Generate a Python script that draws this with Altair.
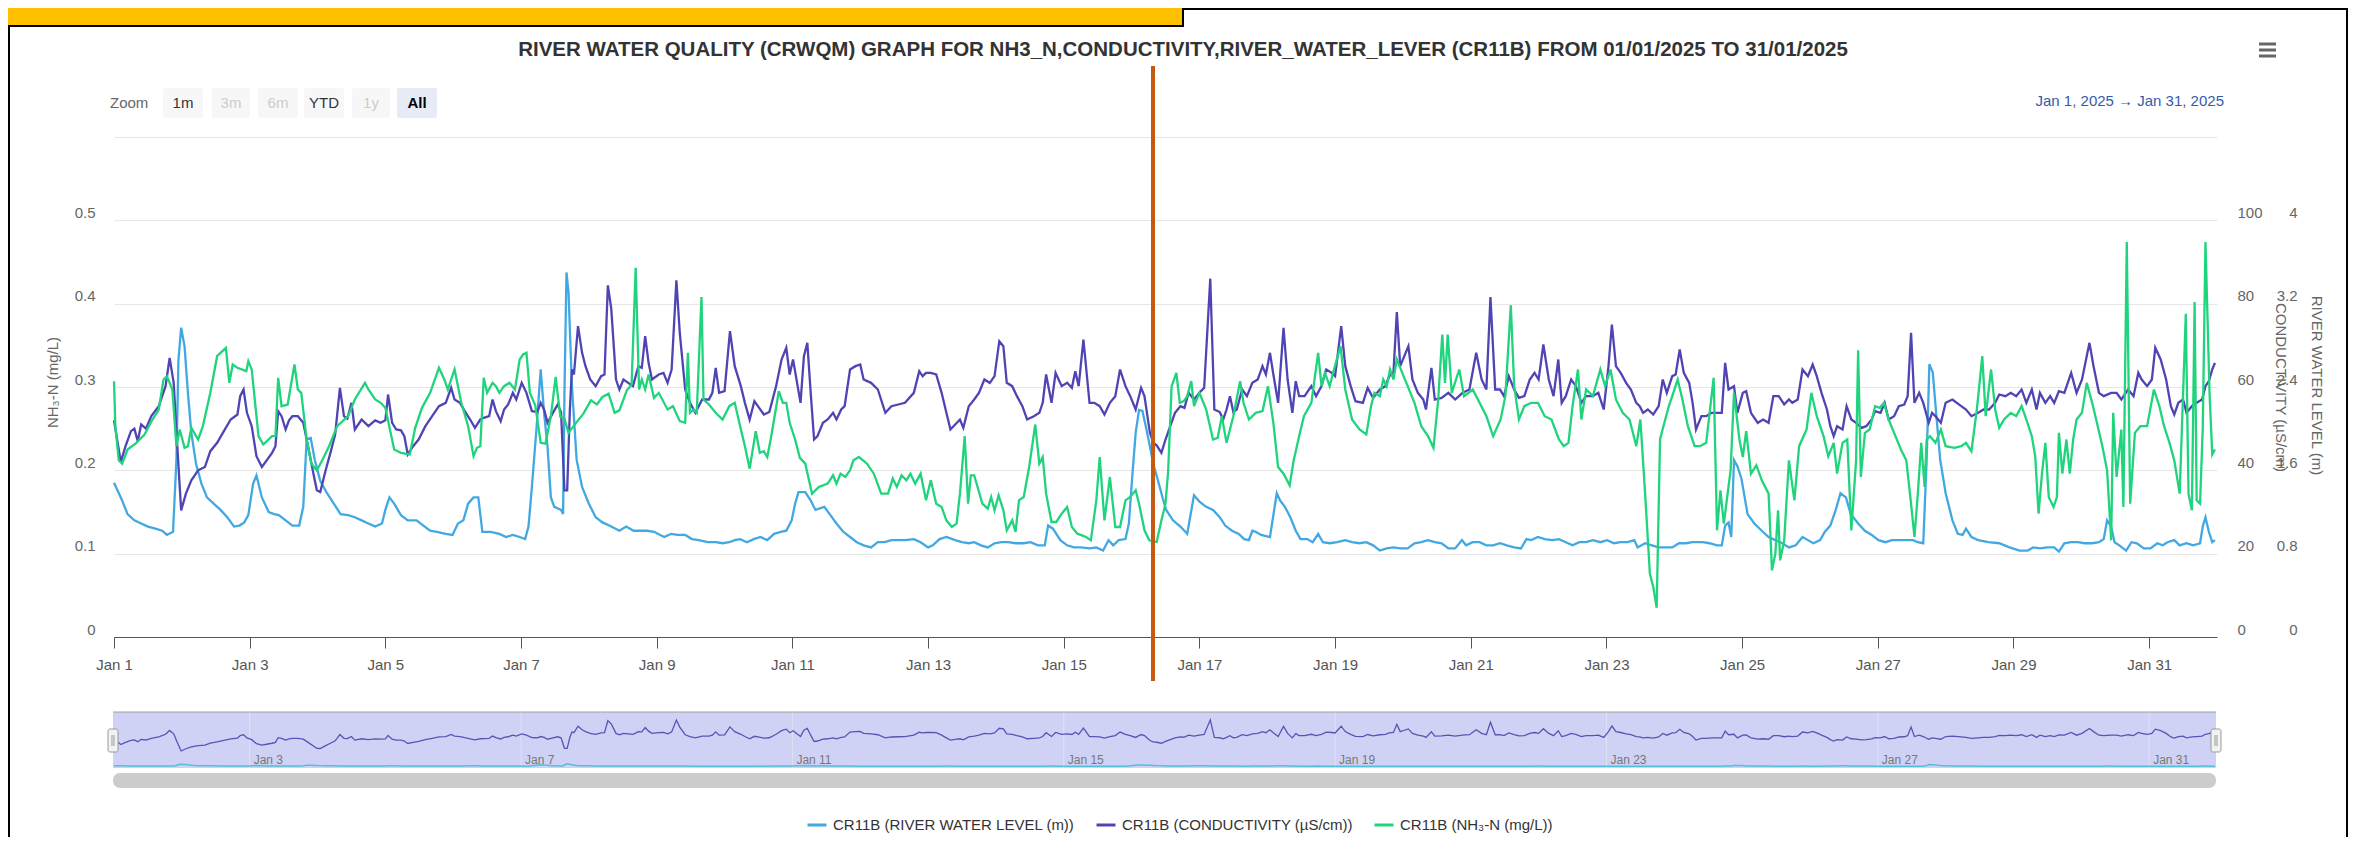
import altair as alt
import pandas as pd

# ---------------- data ----------------
# time = days since 1 Jan 2025 00:00
SERIES = ["CR11B (RIVER WATER LEVEL (m))", "CR11B (CONDUCTIVITY (µS/cm))", "CR11B (NH₃-N (mg/L))"]
COLORS = ["#42a8e2", "#4f44b3", "#1fd47c"]

NH3 = [(0.00,0.307),(0.02,0.253),(0.07,0.212),(0.12,0.208),(0.20,0.225),(0.33,0.233),(0.45,0.243),(0.56,0.260),(0.66,0.273),(0.73,0.309),(0.78,0.313),(0.86,0.297),(0.92,0.229),(0.97,0.249),(1.04,0.227),(1.09,0.229),(1.14,0.251),(1.24,0.237),(1.31,0.253),(1.42,0.293),(1.52,0.337),(1.57,0.341),(1.65,0.347),(1.70,0.305),(1.75,0.327),(1.82,0.323),(1.95,0.319),(1.98,0.331),(2.03,0.321),(2.13,0.241),(2.20,0.231),(2.33,0.241),(2.38,0.241),(2.42,0.311),(2.47,0.277),(2.56,0.279),(2.66,0.327),(2.71,0.297),(2.76,0.293),(2.84,0.237),(2.91,0.208),(2.99,0.200),(3.07,0.212),(3.17,0.229),(3.29,0.253),(3.45,0.265),(3.55,0.285),(3.70,0.305),(3.75,0.297),(3.85,0.285),(3.93,0.281),(4.00,0.275),(4.13,0.225),(4.23,0.221),(4.36,0.219),(4.44,0.251),(4.54,0.275),(4.66,0.293),(4.79,0.323),(4.87,0.309),(4.92,0.297),(5.02,0.321),(5.12,0.281),(5.22,0.253),(5.30,0.217),(5.35,0.227),(5.40,0.229),(5.45,0.311),(5.50,0.293),(5.58,0.305),(5.63,0.301),(5.68,0.293),(5.75,0.301),(5.83,0.305),(5.91,0.297),(5.98,0.333),(6.03,0.339),(6.08,0.341),(6.13,0.293),(6.21,0.278),(6.29,0.233),(6.36,0.232),(6.44,0.265),(6.51,0.312),(6.58,0.264),(6.64,0.262),(6.70,0.245),(6.81,0.257),(6.92,0.268),(7.03,0.284),(7.12,0.279),(7.20,0.288),(7.29,0.292),(7.38,0.269),(7.45,0.272),(7.56,0.296),(7.63,0.303),(7.69,0.443),(7.74,0.297),(7.78,0.309),(7.83,0.297),(7.88,0.315),(7.96,0.287),(8.03,0.293),(8.16,0.273),(8.24,0.277),(8.34,0.259),(8.42,0.257),(8.46,0.341),(8.49,0.269),(8.54,0.273),(8.59,0.269),(8.66,0.408),(8.69,0.285),(8.77,0.279),(8.87,0.269),(8.97,0.261),(9.07,0.277),(9.15,0.281),(9.23,0.253),(9.30,0.229),(9.37,0.202),(9.46,0.247),(9.52,0.221),(9.58,0.223),(9.63,0.216),(9.68,0.237),(9.73,0.261),(9.80,0.295),(9.86,0.281),(9.91,0.281),(9.96,0.257),(10.04,0.237),(10.11,0.215),(10.19,0.208),(10.29,0.172),(10.39,0.180),(10.52,0.184),(10.60,0.194),(10.65,0.184),(10.71,0.196),(10.78,0.192),(10.85,0.200),(10.90,0.212),(10.98,0.216),(11.10,0.208),(11.20,0.196),(11.31,0.172),(11.41,0.172),(11.48,0.190),(11.54,0.180),(11.61,0.194),(11.68,0.188),(11.74,0.196),(11.81,0.184),(11.89,0.196),(11.97,0.164),(12.04,0.188),(12.12,0.160),(12.20,0.156),(12.27,0.140),(12.35,0.132),(12.42,0.136),(12.47,0.172),(12.54,0.241),(12.59,0.160),(12.63,0.194),(12.68,0.194),(12.73,0.180),(12.80,0.160),(12.88,0.154),(12.93,0.168),(12.98,0.152),(13.04,0.170),(13.11,0.152),(13.16,0.128),(13.24,0.140),(13.29,0.126),(13.34,0.164),(13.41,0.168),(13.49,0.204),(13.58,0.255),(13.64,0.208),(13.69,0.216),(13.74,0.172),(13.82,0.138),(13.89,0.138),(13.97,0.148),(14.05,0.156),(14.12,0.132),(14.20,0.124),(14.33,0.120),(14.40,0.116),(14.48,0.164),(14.53,0.216),(14.60,0.140),(14.68,0.192),(14.76,0.132),(14.83,0.132),(14.91,0.164),(14.98,0.168),(15.06,0.176),(15.11,0.160),(15.19,0.128),(15.26,0.116),(15.37,0.114),(15.44,0.140),(15.50,0.160),(15.54,0.200),(15.59,0.301),(15.66,0.317),(15.71,0.281),(15.77,0.283),(15.82,0.289),(15.88,0.307),(15.92,0.277),(16.00,0.293),(16.10,0.273),(16.20,0.237),(16.27,0.239),(16.33,0.265),(16.40,0.233),(16.50,0.265),(16.60,0.307),(16.65,0.281),(16.73,0.261),(16.83,0.269),(16.93,0.271),(17.01,0.301),(17.09,0.257),(17.16,0.204),(17.24,0.196),(17.33,0.182),(17.39,0.212),(17.47,0.241),(17.54,0.265),(17.65,0.281),(17.75,0.341),(17.80,0.301),(17.85,0.317),(17.92,0.301),(17.97,0.317),(18.08,0.349),(18.15,0.297),(18.25,0.261),(18.36,0.249),(18.46,0.243),(18.53,0.277),(18.58,0.293),(18.66,0.289),(18.71,0.309),(18.76,0.301),(18.81,0.321),(18.86,0.309),(18.91,0.333),(18.99,0.317),(19.07,0.301),(19.17,0.281),(19.27,0.253),(19.37,0.241),(19.45,0.227),(19.52,0.285),(19.58,0.363),(19.62,0.305),(19.66,0.363),(19.72,0.293),(19.83,0.321),(19.90,0.289),(20.03,0.297),(20.13,0.281),(20.23,0.265),(20.33,0.241),(20.44,0.261),(20.51,0.289),(20.59,0.398),(20.64,0.301),(20.71,0.261),(20.79,0.277),(20.89,0.281),(20.99,0.281),(21.09,0.265),(21.19,0.261),(21.30,0.237),(21.37,0.229),(21.44,0.233),(21.50,0.277),(21.58,0.321),(21.63,0.261),(21.70,0.297),(21.80,0.289),(21.91,0.321),(21.98,0.301),(22.06,0.321),(22.14,0.285),(22.24,0.269),(22.34,0.261),(22.44,0.229),(22.50,0.261),(22.57,0.172),(22.64,0.076),(22.69,0.060),(22.74,0.035),(22.79,0.237),(22.84,0.253),(22.92,0.277),(22.97,0.289),(23.05,0.309),(23.12,0.285),(23.20,0.253),(23.30,0.229),(23.38,0.229),(23.47,0.233),(23.58,0.311),(23.63,0.128),(23.68,0.176),(23.73,0.136),(23.78,0.168),(23.83,0.200),(23.88,0.293),(23.96,0.237),(24.01,0.216),(24.06,0.247),(24.13,0.196),(24.21,0.206),(24.29,0.188),(24.39,0.172),(24.44,0.080),(24.49,0.100),(24.53,0.152),(24.56,0.092),(24.62,0.116),(24.69,0.212),(24.77,0.164),(24.84,0.229),(24.95,0.249),(25.02,0.293),(25.10,0.265),(25.20,0.241),(25.27,0.217),(25.35,0.233),(25.40,0.196),(25.48,0.233),(25.55,0.237),(25.61,0.128),(25.68,0.212),(25.71,0.344),(25.75,0.192),(25.81,0.245),(25.88,0.249),(25.96,0.277),(26.03,0.275),(26.09,0.281),(26.16,0.261),(26.26,0.241),(26.34,0.225),(26.42,0.212),(26.49,0.160),(26.54,0.120),(26.59,0.172),(26.64,0.233),(26.69,0.180),(26.72,0.237),(26.77,0.241),(26.85,0.233),(26.93,0.249),(27.00,0.229),(27.13,0.227),(27.23,0.229),(27.30,0.233),(27.38,0.223),(27.46,0.273),(27.54,0.337),(27.59,0.265),(27.67,0.321),(27.73,0.273),(27.79,0.251),(27.86,0.261),(27.96,0.269),(28.04,0.265),(28.12,0.277),(28.19,0.261),(28.27,0.241),(28.32,0.217),(28.37,0.148),(28.42,0.196),(28.47,0.233),(28.52,0.168),(28.59,0.156),(28.64,0.168),(28.67,0.245),(28.72,0.196),(28.78,0.237),(28.83,0.196),(28.88,0.237),(28.93,0.261),(29.01,0.269),(29.08,0.305),(29.16,0.281),(29.23,0.257),(29.31,0.229),(29.38,0.200),(29.44,0.116),(29.47,0.269),(29.52,0.192),(29.59,0.249),(29.62,0.156),(29.67,0.474),(29.72,0.160),(29.79,0.245),(29.87,0.253),(29.97,0.253),(30.07,0.297),(30.15,0.277),(30.22,0.253),(30.30,0.233),(30.37,0.212),(30.45,0.172),(30.54,0.388),(30.58,0.172),(30.63,0.152),(30.67,0.402),(30.70,0.164),(30.75,0.160),(30.79,0.250),(30.83,0.474),(30.89,0.293),(30.93,0.219),(30.97,0.225)]

COND = [(0.00,52),(0.10,42),(0.17,45.8),(0.25,49.4),(0.30,50),(0.35,47),(0.40,51),(0.47,50),(0.55,53),(0.66,55.4),(0.76,60.2),(0.82,67),(0.88,61),(0.93,46.6),(0.99,30.4),(1.06,34.4),(1.14,37.6),(1.24,40),(1.34,40.8),(1.42,44.6),(1.52,46.6),(1.62,49.4),(1.72,52.2),(1.82,53.4),(1.86,57.8),(1.91,59.4),(1.96,53.8),(2.03,50.6),(2.10,43.4),(2.18,40.8),(2.25,42.4),(2.33,44.2),(2.38,45.8),(2.42,54.2),(2.47,53),(2.53,49.8),(2.58,52),(2.63,53),(2.71,53),(2.79,51.4),(2.86,45.8),(2.94,39.2),(2.99,35.2),(3.04,34.8),(3.12,40),(3.19,44.2),(3.26,48.6),(3.33,59.8),(3.39,53),(3.44,52.4),(3.50,56.2),(3.55,49.8),(3.65,52.2),(3.75,50.6),(3.85,52),(3.93,51.4),(4.00,52),(4.04,58.2),(4.10,51.4),(4.16,49.8),(4.23,49.6),(4.28,48.2),(4.33,43.8),(4.41,45.8),(4.49,47.4),(4.59,50.6),(4.69,53),(4.79,55.4),(4.89,56.2),(4.97,59.8),(5.02,57),(5.10,56.2),(5.17,54.2),(5.25,52.2),(5.32,50.2),(5.40,52.2),(5.45,52.6),(5.53,53),(5.58,57),(5.63,54.2),(5.70,51.8),(5.75,54.6),(5.81,55.8),(5.88,58.6),(5.93,57),(6.01,61),(6.08,58.6),(6.16,54.2),(6.24,54),(6.29,56.2),(6.34,54.6),(6.39,51.4),(6.47,53.8),(6.54,55.8),(6.59,54),(6.64,35.2),(6.68,35.2),(6.72,54.6),(6.75,64.2),(6.78,63),(6.84,74.6),(6.90,68.2),(6.95,65),(7.02,61.8),(7.10,60.2),(7.18,62.6),(7.23,63),(7.28,84.4),(7.33,78.8),(7.40,61.8),(7.45,59.4),(7.51,61.8),(7.58,61),(7.65,60.2),(7.73,65),(7.78,64.6),(7.83,72.2),(7.88,65.8),(7.93,61.8),(8.03,63),(8.10,63.4),(8.16,61),(8.22,64.2),(8.29,85.6),(8.34,73),(8.42,59.4),(8.49,56.2),(8.57,53.8),(8.67,57),(8.77,57),(8.82,58.6),(8.87,64.6),(8.92,58.6),(9.00,59),(9.08,73.4),(9.15,65),(9.24,60.2),(9.30,56.2),(9.37,52.2),(9.44,56.6),(9.51,55),(9.58,53.4),(9.66,54),(9.76,60.2),(9.84,66.6),(9.91,69.4),(9.96,63),(10.01,66.6),(10.12,56.2),(10.17,67.4),(10.22,70.6),(10.27,58.6),(10.32,47.4),(10.37,48.2),(10.45,51.4),(10.52,52.2),(10.60,53.8),(10.65,52.2),(10.72,54.6),(10.77,55.4),(10.85,64.2),(10.93,65),(11.00,65.4),(11.05,61.8),(11.16,61),(11.26,59.4),(11.37,53.8),(11.46,55.4),(11.56,55.8),(11.66,56.2),(11.79,58.6),(11.87,63.8),(11.92,62.6),(11.97,63.4),(12.04,63.4),(12.12,63),(12.20,58.6),(12.27,53.8),(12.33,49.8),(12.40,51),(12.47,52.2),(12.52,50.2),(12.60,55.4),(12.68,57),(12.75,58.6),(12.83,61.8),(12.91,61),(12.98,62.6),(13.05,71),(13.11,69.8),(13.16,61),(13.24,60.2),(13.31,57.8),(13.39,55.4),(13.46,52.2),(13.56,53),(13.64,53.8),(13.69,56.2),(13.74,63),(13.82,56.2),(13.88,63.4),(13.97,60.2),(14.05,61),(14.12,59.8),(14.17,63.8),(14.22,60.2),(14.29,71.4),(14.38,56.2),(14.45,56.2),(14.53,55.4),(14.60,53.4),(14.68,56.2),(14.76,57.8),(14.83,64.2),(14.91,60.2),(14.98,57.8),(15.06,54.6),(15.14,59.8),(15.19,57.8),(15.27,49),(15.32,46.6),(15.37,46),(15.44,44.2),(15.50,47.4),(15.57,50.6),(15.64,53.8),(15.72,55.4),(15.78,55),(15.84,58.6),(15.92,57),(16.00,58.6),(16.07,59.8),(16.16,86),(16.22,54.6),(16.30,54),(16.35,52.2),(16.40,54.6),(16.45,57.8),(16.50,54),(16.55,54.6),(16.63,59.4),(16.70,57.8),(16.78,61),(16.86,61.8),(16.93,65),(16.98,63),(17.04,68.2),(17.09,63),(17.16,56.2),(17.24,74.2),(17.30,61.8),(17.37,53.8),(17.42,61.4),(17.47,57.8),(17.55,57.8),(17.65,60.2),(17.72,57.8),(17.80,60.2),(17.87,64.2),(17.95,63.4),(18.00,62.6),(18.09,74.6),(18.15,65),(18.23,60.2),(18.30,56.6),(18.41,56.2),(18.48,59.8),(18.56,57.4),(18.66,59.4),(18.74,60.2),(18.80,62.6),(18.86,63.4),(18.91,78),(18.96,65),(19.02,67.4),(19.08,69.8),(19.14,61.8),(19.22,58.6),(19.30,57),(19.34,54.6),(19.42,64.6),(19.47,57),(19.57,57.4),(19.67,58.6),(19.77,57),(19.88,58.6),(19.98,59.4),(20.08,68.2),(20.16,61.8),(20.23,59.4),(20.29,81.6),(20.36,59.4),(20.43,59.4),(20.49,57.8),(20.56,62.6),(20.64,59.4),(20.71,57.4),(20.79,57.8),(20.87,61.8),(20.94,63.4),(21.00,61.8),(21.07,70.2),(21.15,61.8),(21.22,57.8),(21.29,66.6),(21.34,56.2),(21.40,57.8),(21.48,61.8),(21.55,60.2),(21.63,56.2),(21.70,57.8),(21.80,57.8),(21.88,58.6),(21.96,54.6),(22.03,65),(22.08,75),(22.14,65),(22.21,63.4),(22.29,61),(22.36,59.4),(22.44,56.2),(22.49,55.4),(22.54,53.8),(22.61,54.6),(22.69,53.4),(22.77,55.4),(22.83,61.8),(22.89,58.6),(22.97,62.6),(23.02,63),(23.08,69),(23.14,63.4),(23.22,61),(23.27,56.2),(23.32,49.8),(23.40,53),(23.47,53),(23.55,53.8),(23.63,53.8),(23.70,53.8),(23.75,65.8),(23.80,59.4),(23.88,60.2),(23.93,53.8),(24.01,58.6),(24.06,59),(24.13,53.8),(24.23,51.4),(24.31,52.2),(24.39,51.4),(24.46,57.8),(24.54,57.8),(24.62,55.8),(24.69,57),(24.74,56.2),(24.82,57),(24.89,64.2),(24.97,62.6),(25.04,65.4),(25.10,62.6),(25.17,58.6),(25.25,54.6),(25.30,50.6),(25.35,48.2),(25.40,50.6),(25.48,49.8),(25.54,55.4),(25.61,52.2),(25.68,51.4),(25.76,50.2),(25.83,50.6),(25.91,52.2),(25.96,54.2),(26.04,53.8),(26.10,56.2),(26.16,52.2),(26.24,53),(26.31,55.4),(26.39,55.8),(26.44,57.8),(26.49,73),(26.54,56.2),(26.61,58.6),(26.67,56.2),(26.75,51.4),(26.80,53.8),(26.85,53),(26.93,51.4),(27.00,56.2),(27.10,57),(27.23,55.4),(27.30,54.6),(27.38,53),(27.48,53.8),(27.56,54.6),(27.64,54.6),(27.73,56.2),(27.79,58.2),(27.88,57.8),(27.96,58.6),(28.04,57.8),(28.12,59.4),(28.19,56.2),(28.27,59.4),(28.34,54.6),(28.39,58.6),(28.47,56.2),(28.54,57.8),(28.60,56.2),(28.67,59),(28.75,58.6),(28.85,63.4),(28.93,58.6),(29.01,61.8),(29.12,70.6),(29.18,65),(29.26,58.6),(29.33,57.8),(29.44,58.6),(29.52,58.6),(29.59,57),(29.69,59.4),(29.77,57.8),(29.84,63.4),(29.89,61.8),(29.97,60.2),(30.04,61.8),(30.09,69.4),(30.17,66.6),(30.25,61.8),(30.32,55.4),(30.37,53.4),(30.43,56.2),(30.50,57),(30.55,53.8),(30.63,55.4),(30.70,56.2),(30.78,57),(30.83,60.2),(30.88,61.4),(30.93,64.2),(30.97,65.8)]

LEVEL = [(0.00,1.48),(0.12,1.31),(0.20,1.18),(0.30,1.12),(0.40,1.09),(0.50,1.06),(0.61,1.04),(0.71,1.02),(0.78,0.98),(0.87,1.01),(0.92,1.70),(0.95,2.66),(0.99,2.97),(1.04,2.79),(1.09,2.34),(1.14,1.96),(1.21,1.66),(1.29,1.47),(1.37,1.34),(1.47,1.28),(1.57,1.22),(1.67,1.15),(1.77,1.06),(1.85,1.07),(1.92,1.10),(1.98,1.17),(2.05,1.47),(2.10,1.55),(2.18,1.34),(2.28,1.20),(2.36,1.18),(2.43,1.17),(2.53,1.12),(2.63,1.07),(2.73,1.07),(2.79,1.25),(2.84,1.90),(2.90,1.91),(2.96,1.70),(3.04,1.50),(3.14,1.38),(3.24,1.28),(3.34,1.18),(3.45,1.17),(3.55,1.15),(3.65,1.12),(3.75,1.09),(3.85,1.06),(3.95,1.09),(4.00,1.22),(4.06,1.34),(4.13,1.28),(4.23,1.17),(4.33,1.12),(4.46,1.12),(4.56,1.07),(4.66,1.02),(4.76,1.01),(4.89,0.99),(4.99,0.98),(5.07,1.09),(5.15,1.12),(5.22,1.28),(5.30,1.34),(5.37,1.34),(5.43,1.01),(5.55,1.01),(5.68,0.99),(5.78,0.96),(5.88,0.98),(5.98,0.96),(6.06,0.94),(6.11,1.06),(6.16,1.44),(6.23,2.02),(6.29,2.57),(6.34,2.15),(6.39,1.83),(6.44,1.34),(6.49,1.25),(6.59,1.22),(6.62,1.18),(6.64,2.34),(6.67,3.50),(6.70,3.31),(6.75,2.41),(6.82,1.70),(6.90,1.44),(7.00,1.28),(7.10,1.15),(7.20,1.10),(7.30,1.07),(7.45,1.02),(7.55,1.06),(7.66,1.02),(7.75,1.02),(7.86,1.02),(7.96,1.01),(8.11,0.96),(8.21,0.99),(8.31,0.98),(8.42,0.98),(8.52,0.94),(8.62,0.93),(8.75,0.91),(8.87,0.91),(8.97,0.90),(9.07,0.91),(9.15,0.93),(9.23,0.94),(9.33,0.91),(9.43,0.94),(9.53,0.96),(9.63,0.93),(9.73,0.99),(9.83,1.01),(9.91,1.02),(9.99,1.12),(10.04,1.28),(10.09,1.39),(10.19,1.39),(10.27,1.31),(10.34,1.22),(10.47,1.25),(10.55,1.18),(10.65,1.09),(10.75,1.01),(10.85,0.96),(10.95,0.91),(11.05,0.88),(11.16,0.86),(11.26,0.91),(11.36,0.91),(11.46,0.93),(11.56,0.93),(11.66,0.93),(11.79,0.94),(11.89,0.91),(12.00,0.86),(12.07,0.88),(12.17,0.94),(12.27,0.96),(12.40,0.93),(12.50,0.91),(12.60,0.90),(12.68,0.91),(12.78,0.88),(12.88,0.86),(12.98,0.90),(13.08,0.91),(13.18,0.91),(13.29,0.90),(13.41,0.90),(13.51,0.91),(13.62,0.88),(13.72,0.88),(13.77,1.07),(13.84,1.04),(13.95,0.93),(14.05,0.88),(14.15,0.86),(14.25,0.86),(14.38,0.85),(14.48,0.86),(14.58,0.83),(14.66,0.93),(14.73,0.88),(14.81,0.93),(14.91,0.94),(14.96,1.09),(15.01,1.54),(15.06,1.96),(15.11,2.18),(15.16,2.17),(15.21,2.02),(15.27,1.83),(15.32,1.66),(15.39,1.50),(15.46,1.33),(15.51,1.22),(15.61,1.12),(15.72,1.06),(15.82,0.99),(15.92,1.36),(16.00,1.30),(16.10,1.25),(16.20,1.22),(16.30,1.15),(16.38,1.07),(16.48,1.02),(16.58,0.99),(16.66,0.94),(16.73,0.93),(16.78,1.02),(16.83,1.01),(16.91,0.98),(17.04,0.96),(17.09,1.17),(17.14,1.38),(17.19,1.31),(17.26,1.25),(17.34,1.15),(17.42,1.02),(17.49,0.94),(17.59,0.94),(17.67,0.91),(17.75,0.99),(17.82,0.91),(17.92,0.90),(18.03,0.91),(18.15,0.93),(18.25,0.91),(18.36,0.90),(18.46,0.91),(18.56,0.88),(18.66,0.83),(18.76,0.85),(18.86,0.86),(18.96,0.85),(19.07,0.85),(19.17,0.90),(19.27,0.91),(19.37,0.93),(19.47,0.91),(19.57,0.90),(19.67,0.85),(19.77,0.85),(19.87,0.93),(19.93,0.88),(20.03,0.91),(20.13,0.91),(20.23,0.88),(20.33,0.88),(20.43,0.90),(20.53,0.88),(20.64,0.86),(20.74,0.85),(20.82,0.94),(20.89,0.93),(20.99,0.96),(21.09,0.94),(21.20,0.93),(21.30,0.94),(21.40,0.91),(21.50,0.88),(21.60,0.91),(21.70,0.91),(21.80,0.93),(21.91,0.91),(22.01,0.93),(22.11,0.90),(22.21,0.91),(22.31,0.91),(22.41,0.93),(22.46,0.86),(22.57,0.90),(22.67,0.88),(22.77,0.86),(22.87,0.86),(22.97,0.86),(23.07,0.90),(23.17,0.90),(23.27,0.91),(23.42,0.91),(23.52,0.90),(23.63,0.88),(23.70,0.88),(23.75,1.07),(23.80,1.10),(23.84,0.96),(23.88,1.70),(23.93,1.64),(23.99,1.52),(24.08,1.18),(24.18,1.09),(24.29,1.02),(24.39,0.96),(24.49,0.93),(24.59,0.90),(24.69,0.86),(24.79,0.88),(24.89,0.96),(24.97,0.93),(25.05,0.90),(25.15,0.93),(25.22,1.01),(25.30,1.07),(25.38,1.22),(25.45,1.38),(25.53,1.34),(25.60,1.18),(25.71,1.09),(25.81,1.02),(25.91,0.98),(26.01,0.93),(26.11,0.91),(26.21,0.93),(26.31,0.93),(26.42,0.93),(26.52,0.93),(26.59,0.91),(26.67,0.90),(26.72,1.70),(26.76,2.62),(26.81,2.54),(26.86,2.15),(26.92,1.70),(27.00,1.38),(27.10,1.12),(27.18,0.99),(27.25,0.98),(27.30,1.04),(27.38,0.96),(27.48,0.93),(27.63,0.91),(27.79,0.90),(27.94,0.86),(28.09,0.83),(28.21,0.83),(28.29,0.86),(28.39,0.85),(28.50,0.86),(28.60,0.86),(28.67,0.82),(28.75,0.90),(28.85,0.91),(28.95,0.91),(29.05,0.90),(29.16,0.90),(29.26,0.91),(29.33,0.94),(29.38,1.12),(29.44,1.06),(29.49,0.91),(29.56,0.88),(29.66,0.83),(29.74,0.91),(29.82,0.90),(29.92,0.85),(30.02,0.85),(30.12,0.90),(30.20,0.88),(30.27,0.91),(30.37,0.93),(30.45,0.88),(30.55,0.90),(30.65,0.88),(30.75,0.90),(30.79,1.06),(30.83,1.15),(30.88,1.01),(30.93,0.91),(30.97,0.93)]

X_TICKS = [0, 2, 4, 6, 8, 10, 12, 14, 16, 18, 20, 22, 24, 26, 28, 30]      # Jan 1 ... Jan 31
NAV_TICKS = [2, 6, 10, 14, 18, 22, 26, 30]
NAV_LABELS = ["Jan 3", "Jan 7", "Jan 11", "Jan 15", "Jan 19", "Jan 23", "Jan 27", "Jan 31"]
NH3_TICKS = [0, 0.1, 0.2, 0.3, 0.4, 0.5, 0.6]
COND_TICKS = [0, 20, 40, 60, 80, 100, 120]
LEVEL_TICKS = [0, 0.8, 1.6, 2.4, 3.2, 4.0, 4.8]

TITLE = "RIVER WATER QUALITY (CRWQM) GRAPH FOR NH3_N,CONDUCTIVITY,RIVER_WATER_LEVER (CR11B) FROM 01/01/2025 TO 31/01/2025"
RANGE_BUTTONS = ["1m", "3m", "6m", "YTD", "1y", "All"]
DATE_RANGE = "Jan 1, 2025   →   Jan 31, 2025"

# ---------------- layout ----------------
FONT = "Liberation Sans"
W, H = 2103, 500
X0, Y0 = 114, 137          # page position of the plot origin
LW = 2.3                   # series line width


def px(x):
    return x - X0


def py(y):
    return y - Y0


def frame(pairs, series):
    return pd.DataFrame({"day": [p[0] for p in pairs], "value": [p[1] for p in pairs], "series": series})


nh3_df = frame(NH3, SERIES[2])
cond_df = frame(COND, SERIES[1])
lvl_df = frame(LEVEL, SERIES[0])
nav_df = pd.DataFrame({"day": NAV_TICKS, "label": NAV_LABELS})
one = pd.DataFrame({"k": [0]})

x_enc = alt.X(
    "day:Q",
    scale=alt.Scale(domain=[0, 31], nice=False, zero=False),
    axis=alt.Axis(values=X_TICKS, labelExpr="'Jan ' + (datum.value + 1)", title=None, grid=False,
                  domainColor="#555555", tickColor="#555555", tickSize=11, labelColor="#555555",
                  labelFontSize=15, labelPadding=9, labelFont=FONT, labelOverlap=False, labelFlush=False),
)

color_enc = alt.Color(
    "series:N",
    scale=alt.Scale(domain=SERIES, range=COLORS),
    legend=alt.Legend(orient="none", legendX=px(806), legendY=py(814), direction="horizontal", title=None,
                      symbolType="stroke", symbolStrokeWidth=3, symbolSize=361, labelFont=FONT,
                      labelFontSize=15, labelColor="#333333", labelLimit=500, columnPadding=15,
                      labelOffset=5),
)

common_y_axis = dict(domain=False, ticks=False, tickSize=0, labelFont=FONT, labelFontSize=15,
                     labelColor="#666666", labelBaseline="alphabetic", labelOffset=-3,
                     titleFont=FONT, titleFontSize=15, titleColor="#666666", titleFontWeight="normal",
                     titleAlign="center", titleBaseline="middle")

lvl_line = alt.Chart(lvl_df).mark_line(strokeWidth=LW).encode(
    x=x_enc,
    y=alt.Y("value:Q", scale=alt.Scale(domain=[0, 4.8], nice=False, zero=False),
            axis=alt.Axis(orient="right", offset=0, values=LEVEL_TICKS, grid=False,
                          labelExpr="datum.value > 4.5 ? '' : format(datum.value, '~g')",
                          labelAlign="right", labelPadding=80,
                          title="RIVER WATER LEVEL (m)", titleX=99, titleY=248, titleAngle=90,
                          **common_y_axis)),
    color=color_enc,
)

cond_line = alt.Chart(cond_df).mark_line(strokeWidth=LW).encode(
    x=x_enc,
    y=alt.Y("value:Q", scale=alt.Scale(domain=[0, 120], nice=False, zero=False),
            axis=alt.Axis(orient="right", offset=0, values=COND_TICKS, grid=False,
                          labelExpr="datum.value > 110 ? '' : format(datum.value, '~g')",
                          labelAlign="left", labelPadding=20,
                          title="CONDUCTIVITY (µS/cm)", titleX=63, titleY=250, titleAngle=90,
                          **common_y_axis)),
    color=color_enc,
)

nh3_line = alt.Chart(nh3_df).mark_line(strokeWidth=LW).encode(
    x=x_enc,
    y=alt.Y("value:Q", scale=alt.Scale(domain=[0, 0.6], nice=False, zero=False),
            axis=alt.Axis(orient="left", values=NH3_TICKS, grid=True, gridColor="#e6e6e6",
                          labelExpr="datum.value > 0.55 ? '' : format(datum.value, '~g')",
                          labelAlign="right", labelPadding=19,
                          title="NH₃-N (mg/L)", titleX=-62, titleY=245, titleAngle=-90,
                          **common_y_axis)),
    color=color_enc,
)

# navigator (drawn below the plot with its own scale ranges)
NAV_TOP, NAV_BOT = 712, 768


def box(x1, x2, y1, y2, fill, stroke=None, sw=0, r=0):
    kw = dict(fill=fill, cornerRadius=r)
    if stroke:
        kw.update(stroke=stroke, strokeWidth=sw)
    return alt.Chart(one).mark_rect(**kw).encode(
        x=alt.value(px(x1)), x2=alt.value(px(x2)), y=alt.value(py(y1)), y2=alt.value(py(y2)))


def txt(text, x, y, size, color, weight="normal", align="left", baseline="middle"):
    return alt.Chart(one).mark_text(text=text, font=FONT, fontSize=size, color=color, fontWeight=weight,
                                    align=align, baseline=baseline).encode(
        x=alt.value(px(x)), y=alt.value(py(y)))


def vrule(x, y1, y2, color, sw):
    return alt.Chart(one).mark_rule(color=color, strokeWidth=sw).encode(
        x=alt.value(px(x)), y=alt.value(py(y1)), y2=alt.value(py(y2)))


def hrule(x1, x2, y, color, sw):
    return alt.Chart(one).mark_rule(color=color, strokeWidth=sw).encode(
        x=alt.value(px(x1)), x2=alt.value(px(x2)), y=alt.value(py(y)))


nav_bg = box(113, 2216, NAV_TOP, NAV_BOT, "#cfd2f5")
nav_top_line = hrule(113, 2216, NAV_TOP, "#a0a0a0", 1)
nav_grid = alt.Chart(nav_df).mark_rule(color="#e2e2ee", strokeWidth=1).encode(
    x=x_enc, y=alt.value(py(NAV_TOP)), y2=alt.value(py(NAV_BOT)))
nav_lbl = alt.Chart(nav_df).mark_text(align="left", baseline="middle", dx=4, font=FONT, fontSize=12,
                                      color="#777777").encode(
    x=x_enc, y=alt.value(py(760)), text="label:N")
nav_cond = alt.Chart(cond_df).mark_line(strokeWidth=1.3, color="#5953b5").encode(
    x=x_enc,
    y=alt.Y("value:Q", scale=alt.Scale(domain=[0, 100], range=[py(NAV_BOT), py(NAV_TOP)], nice=False, zero=False),
            axis=None))
nav_lvl = alt.Chart(lvl_df).mark_line(strokeWidth=1.5, color="#4fc1d8").encode(
    x=x_enc,
    y=alt.Y("value:Q", scale=alt.Scale(domain=[0, 60], range=[py(NAV_BOT - 1), py(NAV_TOP)], nice=False, zero=False),
            axis=None))
handles = [
    box(108, 118, 729, 752, "#f2f2f2", "#999999", 1, 2), vrule(112, 735, 746, "#999999", 1), vrule(114, 735, 746, "#999999", 1),
    box(2211, 2221, 729, 752, "#f2f2f2", "#999999", 1, 2), vrule(2215, 735, 746, "#999999", 1), vrule(2217, 735, 746, "#999999", 1),
]
scrollbar = box(113, 2216, 773, 788, "#cccccc", r=7)

# range selector & header
header = [txt("Zoom", 110, 103, 15, "#666666")]
btn_x = [183, 231, 278, 324, 371, 417]
btn_w = [40, 38, 40, 40, 38, 40]
for lab, cx, w in zip(RANGE_BUTTONS, btn_x, btn_w):
    sel = lab == "All"
    disabled = lab in ("3m", "6m", "1y")
    header.append(box(cx - w / 2, cx + w / 2, 88, 118, "#e6ebf5" if sel else "#f7f7f7", r=2))
    header.append(txt(lab, cx, 103, 15, "#000000" if sel else ("#cccccc" if disabled else "#333333"),
                      weight="bold" if sel else "normal", align="center"))
header.append(txt(DATE_RANGE, 2224, 101, 15, "#335cad", align="right"))
header.append(txt(TITLE, 1183, 50, 20.5, "#333333", weight="bold", align="center"))
for yy in (44, 50, 56):
    header.append(hrule(2259, 2276, yy, "#666666", 3))

# screenshot annotations
notes = [
    box(0, 1183, 0, 26, "#ffc000", "#000000", 2),
    hrule(1183, 2348, 9, "#000000", 2),
    vrule(9, 27, 860, "#000000", 2),
    vrule(2347, 8, 860, "#000000", 2),
    vrule(1153, 66, 681, "#c55a11", 4),
]

chart = alt.layer(
    nav_bg, nav_grid, nav_top_line, nav_lvl, nav_cond, nav_lbl, *handles, scrollbar,
    lvl_line, cond_line, nh3_line,
    *header, *notes,
).resolve_scale(y="independent").properties(
    width=W, height=H,
    padding={"left": 106, "top": 129, "right": 134, "bottom": 200},
    autosize=alt.AutoSizeParams(type="none"),
    background="white",
).configure(font=FONT).configure_view(stroke=None)

chart.save("out.html", embed_options={"renderer": "svg", "actions": False})
